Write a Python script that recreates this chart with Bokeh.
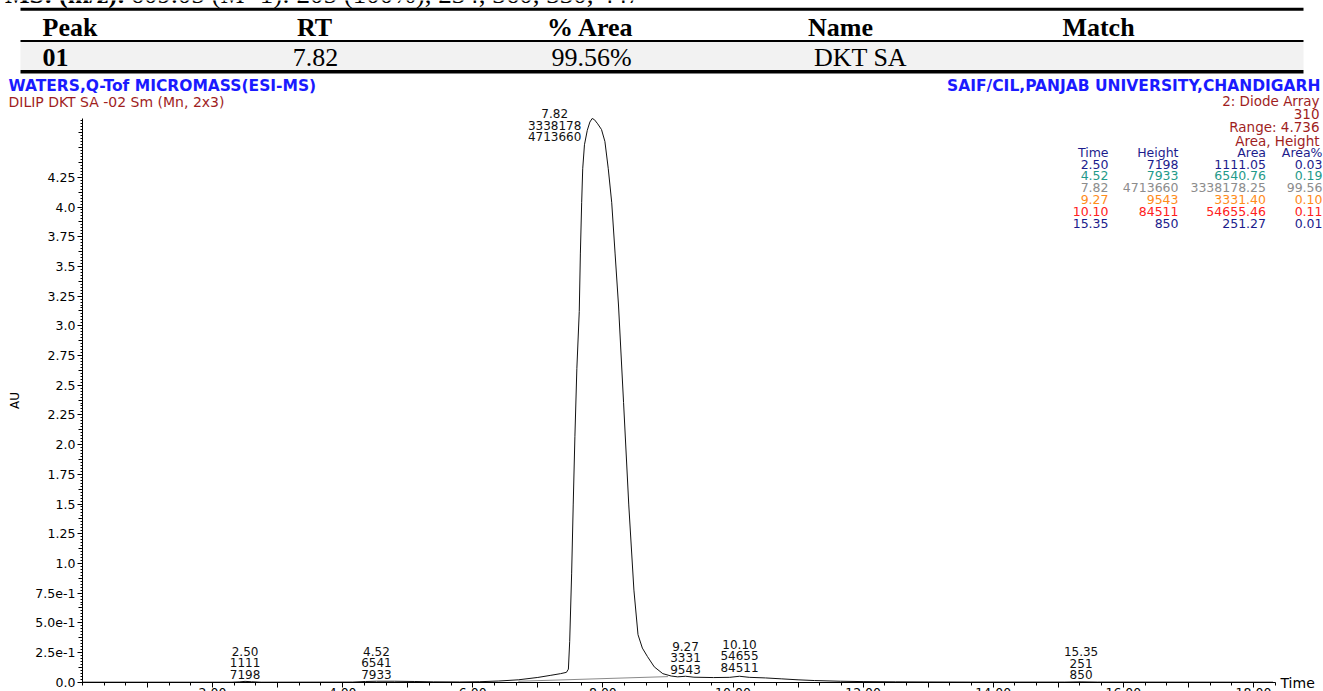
import numpy as np
from bokeh.plotting import figure
from bokeh.models import Range1d, FixedTicker, LinearAxis, ColumnDataSource
from bokeh.core.properties import value
from bokeh.embed import file_html
from bokeh.resources import INLINE

# ---------------- data ----------------
caption_bold = "C-MS: (m/z):"
caption_rest = "609.05 (M+1): 205 (100%), 234, 360, 330, 447"
table_headers = ["Peak", "RT", "% Area", "Name", "Match"]
table_values = ["01", "7.82", "99.56%", "DKT SA", ""]

instrument_title = "WATERS,Q-Tof MICROMASS(ESI-MS)"
sample_title = "DILIP DKT SA -02 Sm (Mn, 2x3)"
lab_title = "SAIF/CIL,PANJAB UNIVERSITY,CHANDIGARH"
detector_info = ["2: Diode Array", "310", "Range: 4.736", "Area, Height"]
peak_table_headers = ["Time", "Height", "Area", "Area%"]

peak_time_labels = ["2.50", "4.52", "7.82", "9.27", "10.10", "15.35"]
peak_time = [2.50, 4.52, 7.82, 9.27, 10.10, 15.35]
peak_height = [7198, 7933, 4713660, 9543, 84511, 850]
peak_area = [1111.05, 6540.76, 3338178.25, 3331.40, 54655.46, 251.27]
peak_area_pct = [0.03, 0.19, 99.56, 0.10, 0.11, 0.01]

time_min = [0.00, 2.30, 2.42, 2.50, 2.60, 2.75, 4.15, 4.35, 4.52, 4.80, 5.10, 5.40,
            5.80, 6.10, 6.40, 6.70, 7.00, 7.20, 7.35, 7.44, 7.47, 7.49, 7.52, 7.544,
            7.57, 7.60, 7.637, 7.654, 7.674, 7.690, 7.717, 7.760, 7.800, 7.835, 7.870,
            7.920, 7.979, 8.031, 8.083, 8.136, 8.188, 8.240, 8.318, 8.398, 8.477, 8.540,
            8.607, 8.686, 8.790, 8.921, 9.050, 9.150, 9.270, 9.400, 9.700, 9.950, 10.10,
            10.25, 10.50, 10.75, 11.00, 11.25, 11.65, 12.00, 12.50, 13.00, 13.65, 15.10,
            15.35, 15.60, 18.30]
absorbance_au = [0.000, 0.000, 0.003, 0.007, 0.004, 0.000, 0.001, 0.006, 0.008, 0.008, 0.006, 0.003,
                 0.002, 0.004, 0.010, 0.020, 0.040, 0.058, 0.072, 0.083, 0.110, 0.344, 0.918, 1.492,
                 2.066, 2.639, 3.120, 3.605, 4.036, 4.322, 4.524, 4.645, 4.715, 4.745, 4.735,
                 4.700, 4.652, 4.552, 4.322, 4.036, 3.605, 3.175, 2.353, 1.492, 0.775, 0.400,
                 0.287, 0.215, 0.129, 0.072, 0.052, 0.045, 0.050, 0.042, 0.039, 0.041, 0.050,
                 0.041, 0.036, 0.028, 0.020, 0.014, 0.008, 0.005, 0.003, 0.002, 0.001, 0.001,
                 0.003, 0.001, 0.000]
baseline_time = [6.70, 9.00]
baseline_au = [0.008, 0.047]

y_tick_values = [0.0, 0.25, 0.5, 0.75, 1.0, 1.25, 1.5, 1.75, 2.0, 2.25, 2.5, 2.75,
                 3.0, 3.25, 3.5, 3.75, 4.0, 4.25]
y_tick_labels = ["0.0", "2.5e-1", "5.0e-1", "7.5e-1", "1.0", "1.25", "1.5", "1.75", "2.0",
                 "2.25", "2.5", "2.75", "3.0", "3.25", "3.5", "3.75", "4.0", "4.25"]
x_tick_values = [2.0, 4.0, 6.0, 8.0, 10.0, 12.0, 14.0, 16.0, 18.0]
x_tick_labels = ["2.00", "4.00", "6.00", "8.00", "10.00", "12.00", "14.00", "16.00", "18.00"]
x_axis_end = 18.34
y_axis_end = 4.745

# ---------------- layout ----------------
W, H = 1323, 691
PX0, PY0 = 0, 0                     # page offset of the canvas
X0_PX, PX_PER_MIN = 81.9, 65.06     # chart origin / scale (page px)
Y0_PX, PX_PER_AU = 681.7, 118.8

x_range = Range1d((PX0 - X0_PX) / PX_PER_MIN, (PX0 + W - X0_PX) / PX_PER_MIN)
y_range = Range1d((Y0_PX - (PY0 + H)) / PX_PER_AU, (Y0_PX - PY0) / PX_PER_AU)

p = figure(width=W, height=H, x_range=x_range, y_range=y_range,
           x_axis_type=None, y_axis_type=None,
           output_backend="svg", toolbar_location=None,
           min_border=0, min_border_left=0, min_border_right=0,
           min_border_top=0, min_border_bottom=0)
p.outline_line_color = None
p.background_fill_color = "white"
p.border_fill_color = "white"
p.extra_x_ranges = {"px": Range1d(PX0, PX0 + W)}
p.extra_y_ranges = {"py": Range1d(PY0 + H, PY0)}

TICK_FONT = "DejaVu Sans"
SERIF = "Liberation Serif"

# ---- axes ----
y_minor = [i * 0.025 for i in range(190)]
y_mid = [i * 0.125 for i in range(38) if i % 2 == 1] + [4.5]
yaxis = LinearAxis(fixed_location=0, bounds=(0, y_axis_end),
                   ticker=FixedTicker(ticks=y_tick_values, minor_ticks=y_minor),
                   major_label_overrides=dict(zip(y_tick_values, y_tick_labels)),
                   axis_label="AU", axis_label_standoff=10,
                   axis_label_text_font=TICK_FONT, axis_label_text_font_size="12px",
                   axis_label_text_font_style="normal", axis_label_text_color="black",
                   major_label_text_font=TICK_FONT, major_label_text_font_size="12.5px",
                   major_label_text_color="black", major_label_standoff=2,
                   major_tick_out=5, major_tick_in=0, minor_tick_out=2, minor_tick_in=0,
                   axis_line_color="black", major_tick_line_color="black",
                   minor_tick_line_color="black")
p.add_layout(yaxis, "left")
yaxis_mid = LinearAxis(fixed_location=0, bounds=(0, y_axis_end),
                       ticker=FixedTicker(ticks=[], minor_ticks=y_mid),
                       axis_line_color=None, major_tick_line_color=None,
                       minor_tick_out=4, minor_tick_in=0, minor_tick_line_color="black")
p.add_layout(yaxis_mid, "left")

x_minor = [i / 3.0 for i in range(0, 56)]
x_mid = [float(i) for i in range(1, 19, 2)]
xaxis = LinearAxis(fixed_location=0, bounds=(0, x_axis_end),
                   ticker=FixedTicker(ticks=x_tick_values, minor_ticks=x_minor),
                   major_label_overrides=dict(zip(x_tick_values, x_tick_labels)),
                   major_label_text_font=TICK_FONT, major_label_text_font_size="12.5px",
                   major_label_text_color="black", major_label_standoff=1,
                   major_tick_out=5, major_tick_in=0, minor_tick_out=3, minor_tick_in=0,
                   axis_line_color="black", major_tick_line_color="black",
                   minor_tick_line_color="black")
p.add_layout(xaxis, "below")
xaxis_mid = LinearAxis(fixed_location=0, bounds=(0, x_axis_end),
                       ticker=FixedTicker(ticks=[], minor_ticks=x_mid),
                       axis_line_color=None, major_tick_line_color=None,
                       minor_tick_out=5, minor_tick_in=0, minor_tick_line_color="black")
p.add_layout(xaxis_mid, "below")

# ---- chromatogram ----
p.line(baseline_time, baseline_au, line_color="#8a8a8a", line_width=1)
p.line(time_min, absorbance_au, line_color="#111111", line_width=1)

# ---- peak labels ----
tarr = np.array(time_min)
aarr = np.array(absorbance_au)
label_dx = [0, 0, -36.5, 0, 0, 0]
label_dy = [0, 0, 25.5, 0, -2, 0]
line_dy = [-30, -18.5, -7]
lx, ly, lt, lxo, lyo = [], [], [], [], []
for i, rt in enumerate(peak_time):
    win = (tarr >= rt - 0.1) & (tarr <= rt + 0.1)
    apex = float(aarr[win].max())
    texts = [peak_time_labels[i], str(int(round(peak_area[i]))), str(peak_height[i])]
    for j, s in enumerate(texts):
        lx.append(rt); ly.append(apex); lt.append(s)
        lxo.append(label_dx[i]); lyo.append(line_dy[j] + label_dy[i])
src = ColumnDataSource(dict(x=lx, y=ly, text=lt, xo=lxo, yo=lyo))
p.text(x="x", y="y", text="text", x_offset="xo", y_offset="yo", source=src,
       text_font=value(TICK_FONT), text_font_size="12px", text_color="#111111",
       text_align="center", text_baseline="middle")

# ---- "Time" axis title ----
p.text(x=[1280], y=[682], text=["Time"], x_range_name="px", y_range_name="py",
       text_font=value(TICK_FONT), text_font_size="14px", text_color="black",
       text_align="left", text_baseline="middle")

# ---- header texts ----
p.text(x=[8], y=[85], text=[instrument_title], x_range_name="px", y_range_name="py",
       text_font=value(TICK_FONT), text_font_size="15.5px", text_font_style="bold",
       text_color="#1a1aff", text_align="left", text_baseline="middle")
p.text(x=[1320], y=[85], text=[lab_title], x_range_name="px", y_range_name="py",
       text_font=value(TICK_FONT), text_font_size="15.5px", text_font_style="bold",
       text_color="#1a1aff", text_align="right", text_baseline="middle")
p.text(x=[8], y=[101.5], text=[sample_title], x_range_name="px", y_range_name="py",
       text_font=value(TICK_FONT), text_font_size="14px",
       text_color="#a01e1e", text_align="left", text_baseline="middle")
p.text(x=[1319] * 4, y=[100, 113.3, 126.7, 140], text=detector_info,
       x_range_name="px", y_range_name="py",
       text_font=value(TICK_FONT), text_font_size="13.5px",
       text_color="#a01e1e", text_align="right", text_baseline="middle")

# ---- right-side peak table ----
col_right = [1108, 1178, 1265.5, 1322]
row0, row_step = 151.7, 11.85
row_colors = ["#1c1c8c", "#1f9a8a", "#8c8c8c", "#ff8c1a", "#ff2020", "#1c1c8c"]
p.text(x=col_right, y=[row0] * 4, text=peak_table_headers,
       x_range_name="px", y_range_name="py",
       text_font=value(TICK_FONT), text_font_size="12.5px",
       text_color="#1c1c8c", text_align="right", text_baseline="middle")
tx, ty, tt, tc = [], [], [], []
for i in range(len(peak_time)):
    vals = [peak_time_labels[i], str(peak_height[i]),
            f"{peak_area[i]:.2f}", f"{peak_area_pct[i]:.2f}"]
    for c, v in enumerate(vals):
        tx.append(col_right[c]); ty.append(row0 + row_step * (i + 1))
        tt.append(v); tc.append(row_colors[i])
p.text(x=tx, y=ty, text=tt, text_color=tc, x_range_name="px", y_range_name="py",
       text_font=value(TICK_FONT), text_font_size="12.5px",
       text_align="right", text_baseline="middle")

# ---- caption line (cut at top edge, as in the source page) ----
p.text(x=[125], y=[-6.5], text=[caption_bold], x_range_name="px", y_range_name="py",
       text_font=value(SERIF), text_font_size="26px", text_font_style="bold",
       text_color="black", text_align="right", text_baseline="middle")
p.text(x=[130], y=[-6.5], text=[caption_rest], x_range_name="px", y_range_name="py",
       text_font=value(SERIF), text_font_size="27px",
       text_color="black", text_align="left", text_baseline="middle")

# ---- top results table ----
p.quad(left=[20], right=[1303], top=[41.5], bottom=[69.7], x_range_name="px",
       y_range_name="py", fill_color="#f2f2f2", line_color=None)
p.segment(x0=[20, 20, 20], y0=[8.7, 40.5, 71.3], x1=[1303] * 3, y1=[8.7, 40.5, 71.3],
          x_range_name="px", y_range_name="py", line_color="black",
          line_width=[3, 2, 3.5])
hx = [42, 314, 590, 840, 1098]
halign = ["left", "center", "center", "center", "center"]
vx = [42, 315, 591, 860, 1098]
p.text(x=hx, y=[26.5] * 5, text=table_headers, text_align=halign,
       x_range_name="px", y_range_name="py",
       text_font=value(SERIF), text_font_size="26px",
       text_font_style="bold", text_color="black", text_baseline="middle")
p.text(x=vx[:1], y=[57], text=table_values[:1], text_align="left",
       x_range_name="px", y_range_name="py",
       text_font=value(SERIF), text_font_size="26px",
       text_font_style="bold", text_color="black", text_baseline="middle")
p.text(x=vx[1:], y=[57] * 4, text=table_values[1:], text_align="center",
       x_range_name="px", y_range_name="py",
       text_font=value(SERIF), text_font_size="26px",
       text_color="black", text_baseline="middle")

open("out.html", "w").write(file_html(p, INLINE))
